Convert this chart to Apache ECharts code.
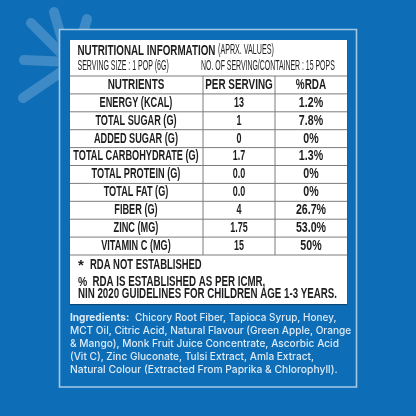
<!DOCTYPE html>
<html><head><meta charset="utf-8">
<script src="https://cdn.jsdelivr.net/npm/echarts@6/dist/echarts.min.js"></script>
<style>html,body{margin:0;padding:0;background:#0e6db7}#c{width:416px;height:416px}</style>
</head><body><div id="c"></div>
<script>
const headers = ['NUTRIENTS','PER SERVING','%RDA'];
const nutrients = ['ENERGY (KCAL)','TOTAL SUGAR (G)','ADDED SUGAR (G)','TOTAL CARBOHYDRATE (G)','TOTAL PROTEIN (G)','TOTAL FAT (G)','FIBER (G)','ZINC (MG)','VITAMIN C (MG)'];
const perServing = ['13','1','0','1.7','0.0','0.0','4','1.75','15'];
const rda = ['1.2%','7.8%','0%','1.3%','0%','0%','26.7%','53.0%','50%'];
const ingredients = ['Chicory Root Fiber, Tapioca Syrup, Honey,','MCT Oil, Citric Acid, Natural Flavour (Green Apple, Orange','& Mango), Monk Fruit Juice Concentrate, Ascorbic Acid','(Vit C), Zinc Gluconate, Tulsi Extract, Amla Extract,','Natural Colour (Extracted From Paprika & Chlorophyll).'];

const NARROW = '"Liberation Sans"';
const rows = [headers].concat(nutrients.map((n,i)=>[n,perServing[i],rda[i]]));
const colX = [136,239,311];
const tableData = rows.map((r,i)=>[i,r[0],r[1],r[2]]);
const bodyScale=[0.655,0.64,0.76];
const RULE='#7c7c7c';

function T(x,y,text,o){o=o||{};return {type:'text',x:x,y:y,z:o.z||5,scaleX:o.sx||1,style:{text:text,fill:o.fill||'#1d1d1f',font:(o.w||'normal')+' '+(o.s||12)+'px '+(o.f||NARROW),textAlign:o.a||'left',textVerticalAlign:'middle'}};}
function ray(x1,y1,x2,y2,w){return {type:'line',z:1,shape:{x1,y1,x2,y2},style:{stroke:'#3d8ac6',lineWidth:w||10,lineCap:'round'}};}

const g=[];
g.push({type:'rect',z:0,shape:{x:0,y:0,width:416,height:416},style:{fill:'#0e6db7'}});
g.push(ray(31,23,70,62),ray(54,12,68,60),ray(87,19,78,50),ray(24,60,70,62),ray(23,98,70,66));
g.push({type:'rect',z:2,shape:{x:59.5,y:29.5,width:297,height:357.5},style:{fill:'#0e6db7',stroke:'#a4c9e7',lineWidth:1.6}});
g.push({type:'rect',z:3,shape:{x:70,y:40,width:277,height:264},style:{fill:'#ffffff',shadowColor:'rgba(0,0,0,0.35)',shadowBlur:1,shadowOffsetY:1}});
[76,255].forEach(y=>g.push({type:'line',z:4,shape:{x1:70,y1:y,x2:347,y2:y},style:{stroke:RULE,lineWidth:1}}));
[203,275].forEach(x=>g.push({type:'line',z:4,shape:{x1:x,y1:76,x2:x,y2:255},style:{stroke:RULE,lineWidth:1}}));
g.push(T(77.5,50.5,'NUTRITIONAL INFORMATION',{w:'bold',s:15,sx:0.655}));
g.push(T(218,50.5,'(APRX. VALUES)',{s:14,sx:0.51}));
g.push(T(77.5,66,'SERVING SIZE : 1 POP (6G)',{s:14,sx:0.5}));
g.push(T(201,66,'NO. OF SERVING/CONTAINER : 15 POPS',{s:14,sx:0.495}));
g.push(T(78,266,'*',{w:'bold',s:15}));
g.push(T(90,265,'RDA NOT ESTABLISHED',{w:'bold',s:15,sx:0.63}));
g.push(T(78,282,'%',{w:'bold',s:13,sx:0.8}));
g.push(T(92.5,282,'RDA IS ESTABLISHED AS PER ICMR,',{w:'bold',s:14,sx:0.695}));
g.push(T(78,294.5,'NIN 2020 GUIDELINES FOR CHILDREN AGE 1-3 YEARS.',{w:'bold',s:14,sx:0.695}));
const SANS='Inter';
g.push(T(70,318,'Ingredients:',{w:'bold',s:10.5,f:SANS,fill:'#dcebf7',sx:0.96}));
const off=[135,70,70,70,70];
const lineScale=[0.95,0.96,0.965,0.96,0.98];
ingredients.forEach((l,i)=>g.push(T(off[i],318+i*13,l,{w:'500',s:10.5,f:SANS,fill:'#dcebf7',sx:lineScale[i]})));

const chart=echarts.init(document.getElementById('c'),null,{renderer:'canvas'});
chart.setOption({
  animation:false,
  graphic:{elements:g},
  grid:{left:70,top:76,width:277,height:179},
  xAxis:{type:'value',min:0,max:277,show:false},
  yAxis:{type:'category',inverse:true,data:rows.map(r=>r[0]),show:false},
  series:[{type:'custom',z:10,coordinateSystem:'cartesian2d',data:tableData,encode:{y:0},
    renderItem:function(params,api){
      const i=api.value(0);
      const y=api.coord([0,i])[1];
      const h=api.size([0,1])[1];
      const r=rows[i];
      const ch=[];
      if(i>0)ch.push({type:'line',shape:{x1:70,y1:y-h/2,x2:347,y2:y-h/2},style:{stroke:RULE,lineWidth:1}});
      r.forEach((t,c)=>ch.push({type:'text',x:colX[c],y:y,scaleX:i==0?0.66:bodyScale[c],style:{text:t,fill:'#1d1d1f',font:((i==0||c==0)?'bold ':'bold ')+(i==0?15:14)+'px '+NARROW,textAlign:'center',textVerticalAlign:'middle'}}));
      return {type:'group',children:ch};
    }}]
});
</script></body></html>
